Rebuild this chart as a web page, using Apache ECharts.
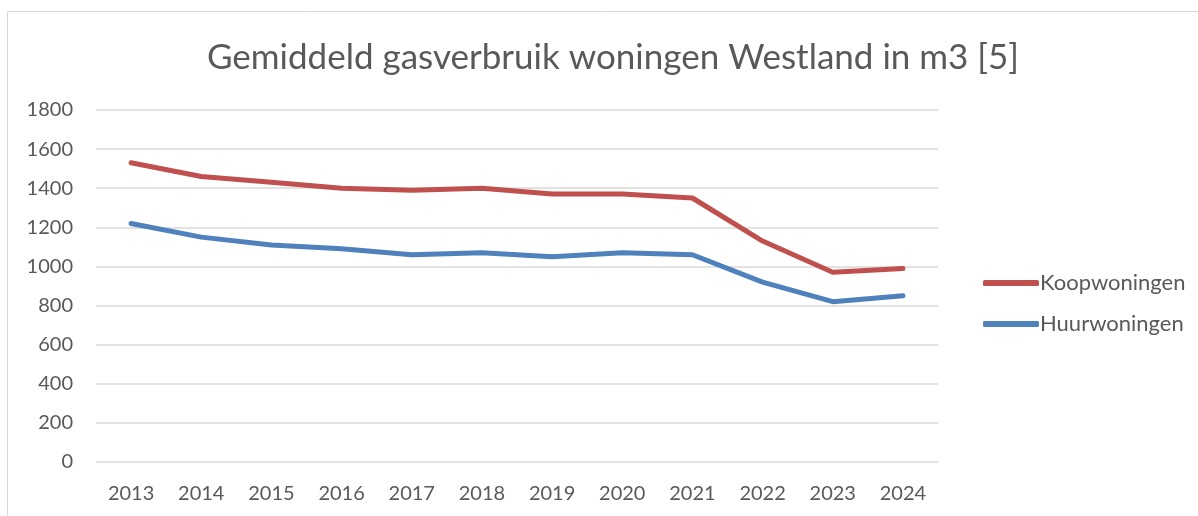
<!DOCTYPE html>
<html>
<head>
<meta charset="utf-8">
<script src="https://cdn.jsdelivr.net/npm/echarts@6/dist/echarts.min.js"></script>
<style>
  html, body { margin: 0; padding: 0; background: #fff; }
  #chart { width: 1198px; height: 516px; }
</style>
</head>
<body>
<div id="chart"></div>
<script>
const years = ['2013', '2014', '2015', '2016', '2017', '2018', '2019', '2020', '2021', '2022', '2023', '2024'];
const koopwoningen = [1530, 1460, 1430, 1400, 1390, 1400, 1370, 1370, 1350, 1130, 970, 990];
const huurwoningen = [1220, 1150, 1110, 1090, 1060, 1070, 1050, 1070, 1060, 920, 820, 850];

const font = 'Lato, "Open Sans", sans-serif';
const textColor = '#595959';

const chart = echarts.init(document.getElementById('chart'));
chart.setOption({
  animation: false,
  textStyle: { fontFamily: font },
  graphic: [{
    type: 'rect',
    shape: { x: 7.5, y: 11.5, width: 1200, height: 520 },
    style: { fill: 'none', stroke: '#d9d9d9', lineWidth: 1 },
    silent: true
  }],
  title: {
    text: 'Gemiddeld gasverbruik woningen Westland in m3 [5]',
    left: 608,
    top: 35,
    textAlign: 'center',
    textStyle: { color: textColor, fontSize: 35, fontWeight: 'normal', fontFamily: font }
  },
  legend: {
    orient: 'vertical',
    left: 978,
    top: 267,
    itemWidth: 56,
    itemHeight: 6,
    itemGap: 19,
    icon: 'roundRect',
    textStyle: { color: textColor, fontSize: 22, fontFamily: font, padding: [0, 0, 0, -4] },
    data: ['Koopwoningen', 'Huurwoningen']
  },
  grid: { left: 96, right: 260, top: 110, bottom: 54, containLabel: false },
  xAxis: {
    type: 'category',
    data: years,
    boundaryGap: true,
    axisLine: { show: false },
    axisTick: { show: false },
    axisLabel: { color: textColor, fontSize: 20, margin: 22, fontFamily: font }
  },
  yAxis: {
    type: 'value',
    min: 0,
    max: 1800,
    interval: 200,
    axisLine: { show: false },
    axisTick: { show: false },
    axisLabel: { color: textColor, fontSize: 20, margin: 23, fontFamily: font, formatter: (v) => String(v) },
    splitLine: { lineStyle: { color: '#d9d9d9', width: 1.5 } }
  },
  series: [
    {
      name: 'Koopwoningen',
      type: 'line',
      data: koopwoningen,
      symbol: 'none',
      color: '#c0504d',
      lineStyle: { width: 5, cap: 'round', join: 'round' }
    },
    {
      name: 'Huurwoningen',
      type: 'line',
      data: huurwoningen,
      symbol: 'none',
      color: '#4f81bd',
      lineStyle: { width: 5, cap: 'round', join: 'round' }
    }
  ]
});
</script>
</body>
</html>
